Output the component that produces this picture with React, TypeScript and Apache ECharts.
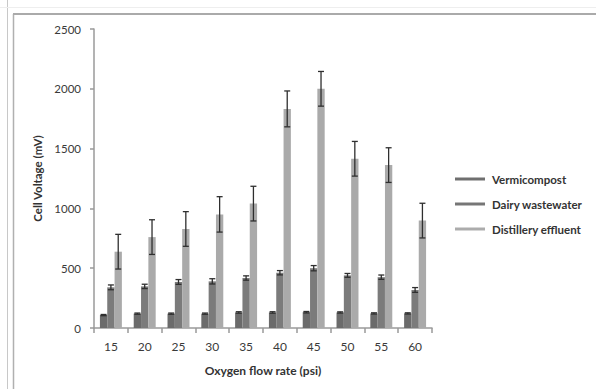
import React, { useEffect, useRef } from "react";
import * as echarts from "echarts";

const categories = ["15", "20", "25", "30", "35", "40", "45", "50", "55", "60"];
const vermicompost = [108, 120, 120, 120, 130, 130, 132, 130, 122, 122];
const vermicompostErr = [5, 5, 5, 5, 6, 6, 6, 5, 5, 5];
const dairy = [340, 348, 385, 390, 418, 462, 500, 440, 425, 318];
const dairyErr = [20, 18, 20, 22, 18, 18, 22, 16, 18, 20];
const distillery = [638, 760, 828, 950, 1040, 1832, 2000, 1415, 1362, 898];
const distilleryErr = [145, 145, 145, 148, 145, 150, 145, 145, 145, 145];

const seriesNames = ["Vermicompost", "Dairy wastewater", "Distillery effluent"];
const barColors = ["#6b6b6b", "#7b7b7b", "#aaaaaa"];
const legendColors = ["#6f6f6f", "#767676", "#acacac"];

const FONT = "Lato, 'Open Sans', sans-serif";

export default function App() {
  const ref = useRef<HTMLDivElement>(null);
  useEffect(() => {
    if (!ref.current) return;
    const chart = echarts.init(ref.current, undefined, { renderer: "svg" });
    const values = [vermicompost, dairy, distillery];
    const errs = [vermicompostErr, dairyErr, distilleryErr];
    const errData: number[][] = [];
    values.forEach((arr, s) => {
      arr.forEach((v, i) => errData.push([i, v - errs[s][i], v + errs[s][i], s]));
    });
    const gapRatio = 0.35;
    chart.setOption({
      animation: false,
      backgroundColor: "#ffffff",
      textStyle: { fontFamily: FONT },
      grid: { left: 94, right: 164, top: 29, bottom: 61 },
      legend: {
        orient: "vertical",
        left: 450,
        top: 167,
        itemWidth: 30,
        itemHeight: 3,
        itemGap: 11,
        icon: "rect",
        data: seriesNames.map((n, i) => ({ name: n, itemStyle: { color: legendColors[i] } })),
        textStyle: { fontFamily: FONT, fontSize: 11.5, fontWeight: "bold", color: "#333", lineHeight: 14, padding: [0, 0, 0, 2] },
      },
      graphic: [
        { type: "line", shape: { x1: 7.5, y1: 0, x2: 7.5, y2: 389 }, style: { stroke: "#c8c8c8", lineWidth: 1 } },
        { type: "line", shape: { x1: 0, y1: 7.5, x2: 596, y2: 7.5 }, style: { stroke: "#eeeeee", lineWidth: 1 } },
        { type: "line", shape: { x1: 13.5, y1: 14, x2: 13.5, y2: 389 }, style: { stroke: "#b0b0b0", lineWidth: 1.5 } },
        { type: "line", shape: { x1: 13, y1: 14, x2: 596, y2: 14 }, style: { stroke: "#aaaaaa", lineWidth: 2 } },
      ],
      xAxis: {
        type: "category",
        data: categories,
        name: "Oxygen flow rate (psi)",
        nameLocation: "middle",
        nameGap: 36,
        nameTextStyle: { fontFamily: FONT, fontSize: 12, fontWeight: "bold", color: "#333" },
        axisLine: { lineStyle: { color: "#9a9a9a", width: 1.5 } },
        axisTick: { show: true, length: 5, lineStyle: { color: "#9a9a9a", width: 1.5 } },
        axisLabel: { fontFamily: FONT, fontSize: 12, color: "#3a3a3a", margin: 12 },
      },
      yAxis: {
        type: "value",
        min: 0,
        max: 2500,
        interval: 500,
        name: "Cell Voltage (mV)",
        nameLocation: "middle",
        nameGap: 43,
        nameRotate: 90,
        nameTextStyle: { fontFamily: FONT, fontSize: 11.5, fontWeight: "bold", color: "#333" },
        axisLine: { show: true, lineStyle: { color: "#9a9a9a", width: 1.5 } },
        axisTick: { show: true, length: 4, lineStyle: { color: "#9a9a9a", width: 1.5 } },
        splitLine: { show: false },
        axisLabel: {
          fontFamily: FONT,
          fontSize: 11.5,
          color: "#3a3a3a",
          margin: 13,
          formatter: (v: number) => String(v),
        },
      },
      series: [
        ...values.map((arr, s) => ({
          type: "bar",
          name: seriesNames[s],
          data: arr,
          barGap: "0%",
          barCategoryGap: "35%",
          itemStyle: { color: barColors[s] },
        })),
        {
          type: "custom",
          name: "err",
          data: errData,
          z: 10,
          renderItem: (params: any, api: any) => {
            const idx = api.value(0);
            const lo = api.value(1);
            const hi = api.value(2);
            const s = api.value(3);
            const band = api.size([1, 0])[0];
            const bw = (band * (1 - gapRatio)) / 3;
            const c0 = api.coord([idx, lo]);
            const c1 = api.coord([idx, hi]);
            const x = c0[0] + (s - 1) * bw;
            const cap = 3;
            const st = { stroke: "#2f2f2f", lineWidth: 1.3 };
            return {
              type: "group",
              children: [
                { type: "line", shape: { x1: x, y1: c0[1], x2: x, y2: c1[1] }, style: st },
                { type: "line", shape: { x1: x - cap, y1: c0[1], x2: x + cap, y2: c0[1] }, style: st },
                { type: "line", shape: { x1: x - cap, y1: c1[1], x2: x + cap, y2: c1[1] }, style: st },
              ],
            };
          },
        },
      ],
    });
    return () => chart.dispose();
  }, []);
  return <div ref={ref} style={{ width: 596, height: 389, position: "absolute", left: 0, top: 0 }} />;
}
